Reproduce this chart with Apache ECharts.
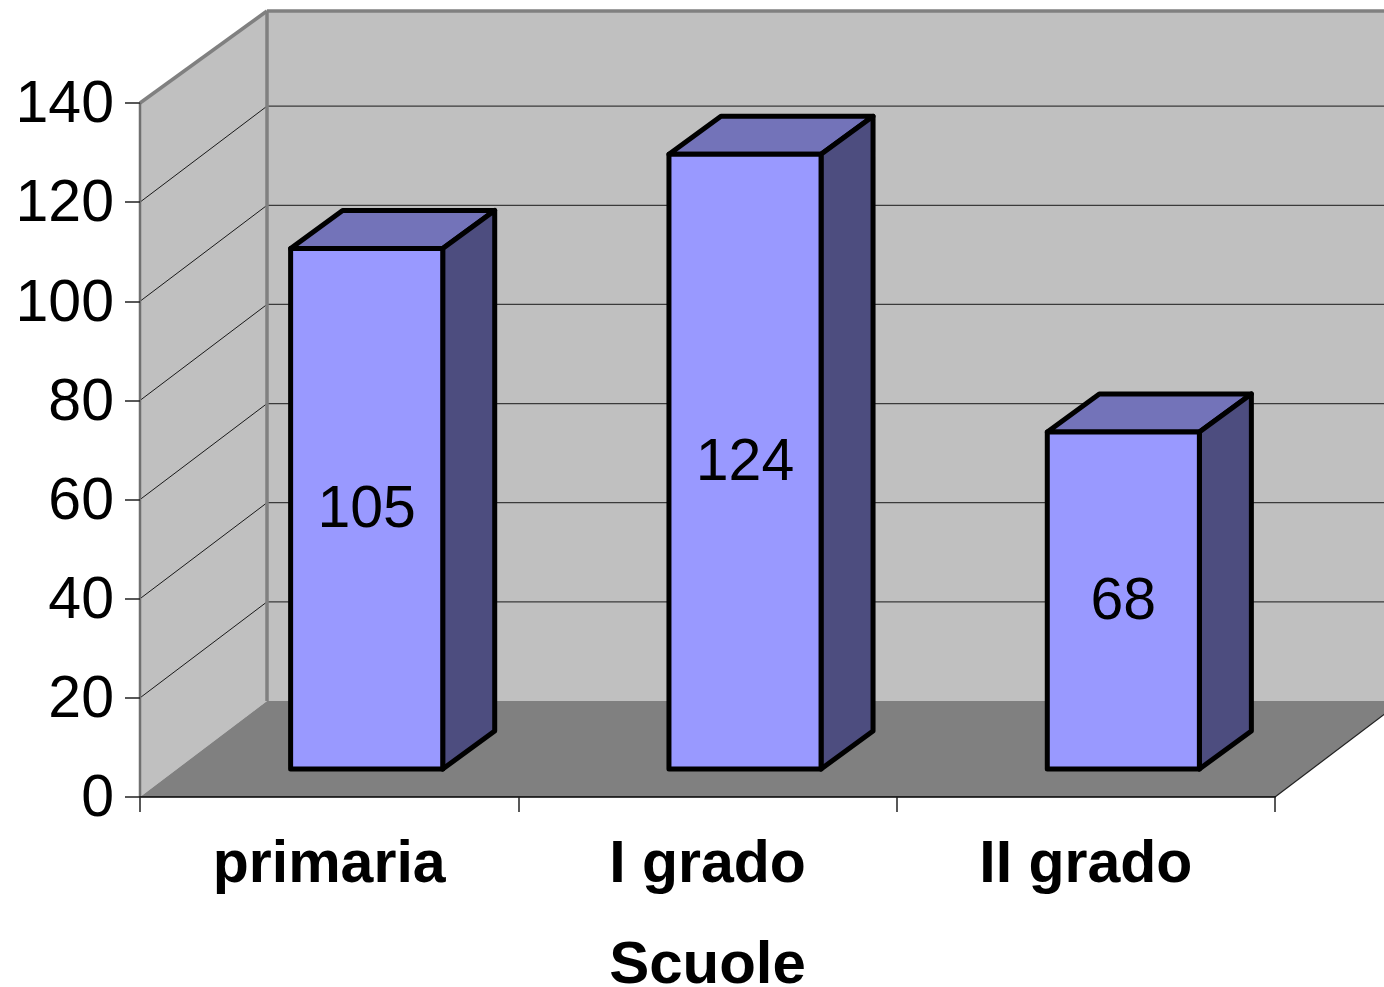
<!DOCTYPE html>
<html><head><meta charset="utf-8">
<style>html,body{margin:0;padding:0;background:#fff;overflow:hidden}#c{width:1384px;height:987px}</style>
<script src="https://cdn.jsdelivr.net/npm/echarts@6/dist/echarts.min.js"></script>
</head><body><div id="c"></div>
<script>
var categories = ['primaria', 'I grado', 'II grado'];
var values = [105, 124, 68];
var yTicks = [20, 40, 60, 80, 100, 120];
var yMax = 140;
var axisName = 'Scuole';

var FONT = '"Liberation Sans", Arial, sans-serif';
var WALL_DX = 127, WALL_DY = -96, WALL_TOP_DY = -92;
var BAR_DX = 52, BAR_DY = -38;
var BAR_SHIFT_X = 37.5, BAR_SHIFT_Y = -28, BAR_RATIO = 0.402;

function poly(pts, fill, z2) {
  return { type: 'polygon', shape: { points: pts }, style: { fill: fill, stroke: null }, z2: z2 || 0 };
}
function seg(a, b, color, w, z2) {
  return { type: 'line', shape: { x1: a[0], y1: a[1], x2: b[0], y2: b[1] },
           style: { stroke: color, lineWidth: w, fill: null }, z2: z2 || 0 };
}

function renderWalls(params, api) {
  var cs = params.coordSys;
  var L = cs.x, R = cs.x + cs.width;
  var y0 = api.coord([0, 0])[1], yT = api.coord([0, yMax])[1];
  var kids = [
    poly([[L, yT], [L + WALL_DX, yT + WALL_TOP_DY], [L + WALL_DX, y0 + WALL_DY], [L, y0]], '#c0c0c0', 0),
    poly([[L + WALL_DX, yT + WALL_TOP_DY], [R + WALL_DX, yT + WALL_TOP_DY], [R + WALL_DX, y0 + WALL_DY], [L + WALL_DX, y0 + WALL_DY]], '#c0c0c0', 0),
    poly([[L, y0], [R, y0], [R + WALL_DX, y0 + WALL_DY], [L + WALL_DX, y0 + WALL_DY]], '#808080', 1)
  ];
  yTicks.forEach(function (t) {
    var y = api.coord([0, t])[1];
    kids.push(seg([L, y], [L + WALL_DX, y + WALL_DY], '#1a1a1a', 1, 2));
    kids.push(seg([L + WALL_DX, y + WALL_DY], [R + WALL_DX, y + WALL_DY], '#3a3a3a', 1.2, 2));
  });
  kids.push(seg([L, yT], [L + WALL_DX, yT + WALL_TOP_DY], '#808080', 3.5, 3));
  kids.push(seg([L + WALL_DX, yT + WALL_TOP_DY], [R + WALL_DX, yT + WALL_TOP_DY], '#808080', 3.5, 3));
  kids.push(seg([L + WALL_DX, yT + WALL_TOP_DY], [L + WALL_DX, y0 + WALL_DY], '#808080', 3.5, 3));
  kids.push(seg([L, yT], [L, y0], '#707070', 2.5, 3));
  kids.push(seg([R, y0], [R + WALL_DX, y0 + WALL_DY], '#222', 1.2, 3));
  return { type: 'group', children: kids };
}

function renderBar(params, api) {
  var i = api.value(0), v = api.value(1);
  var c = api.coord([i, v]), b = api.coord([i, 0]);
  var w = api.size([1, 0])[0] * BAR_RATIO;
  var x1 = c[0] + BAR_SHIFT_X - w / 2, x2 = x1 + w;
  var yt = c[1] + BAR_SHIFT_Y, yb = b[1] + BAR_SHIFT_Y;
  function face(pts, fill) {
    return { type: 'polygon', shape: { points: pts },
             style: { fill: fill, stroke: '#000', lineWidth: 5, lineJoin: 'round' } };
  }
  return { type: 'group', children: [
    face([[x1, yt], [x1 + BAR_DX, yt + BAR_DY], [x2 + BAR_DX, yt + BAR_DY], [x2, yt]], '#7373b9'),
    face([[x2, yt], [x2 + BAR_DX, yt + BAR_DY], [x2 + BAR_DX, yb + BAR_DY], [x2, yb]], '#4d4d7f'),
    face([[x1, yt], [x2, yt], [x2, yb], [x1, yb]], '#9999ff'),
    { type: 'text', z2: 5, style: { x: (x1 + x2) / 2, y: (yt + yb) / 2 + 2, text: String(v), fill: '#000',
      font: '59px ' + FONT, align: 'center', verticalAlign: 'middle' } }
  ] };
}

var chart = echarts.init(document.getElementById('c'), null, { renderer: 'canvas', width: 1384, height: 987 });
chart.setOption({
  animation: false,
  backgroundColor: '#fff',
  grid: { left: 140, right: 109, top: 103, bottom: 190, containLabel: false, outerBoundsMode: 'none' },
  xAxis: {
    type: 'category', data: categories, z: 6,
    name: axisName, nameLocation: 'middle', nameGap: 139,
    nameTextStyle: { fontFamily: FONT, fontWeight: 'bold', fontSize: 60, color: '#000' },
    axisLine: { show: true, onZero: false, lineStyle: { color: '#000', width: 1.5 } },
    axisTick: { show: true, length: 15, lineStyle: { color: '#222', width: 1.5 } },
    axisLabel: { margin: 39, fontFamily: FONT, fontWeight: 'bold', fontSize: 59, color: '#000' },
    splitLine: { show: false }
  },
  yAxis: {
    type: 'value', min: 0, max: yMax, interval: 20, z: 6,
    axisLine: { show: false },
    axisTick: { show: true, length: 15, lineStyle: { color: '#222', width: 1.5 } },
    axisLabel: { margin: 26, fontFamily: FONT, fontSize: 59, color: '#000', verticalAlign: 'top', lineHeight: 6 },
    splitLine: { show: false }
  },
  series: [
    { type: 'custom', silent: true, z: 1, data: [[0, 0]], renderItem: renderWalls },
    { type: 'custom', silent: true, z: 2, data: values.map(function (v, i) { return [i, v]; }),
      encode: { x: 0, y: 1 }, renderItem: renderBar }
  ]
});
</script></body></html>
